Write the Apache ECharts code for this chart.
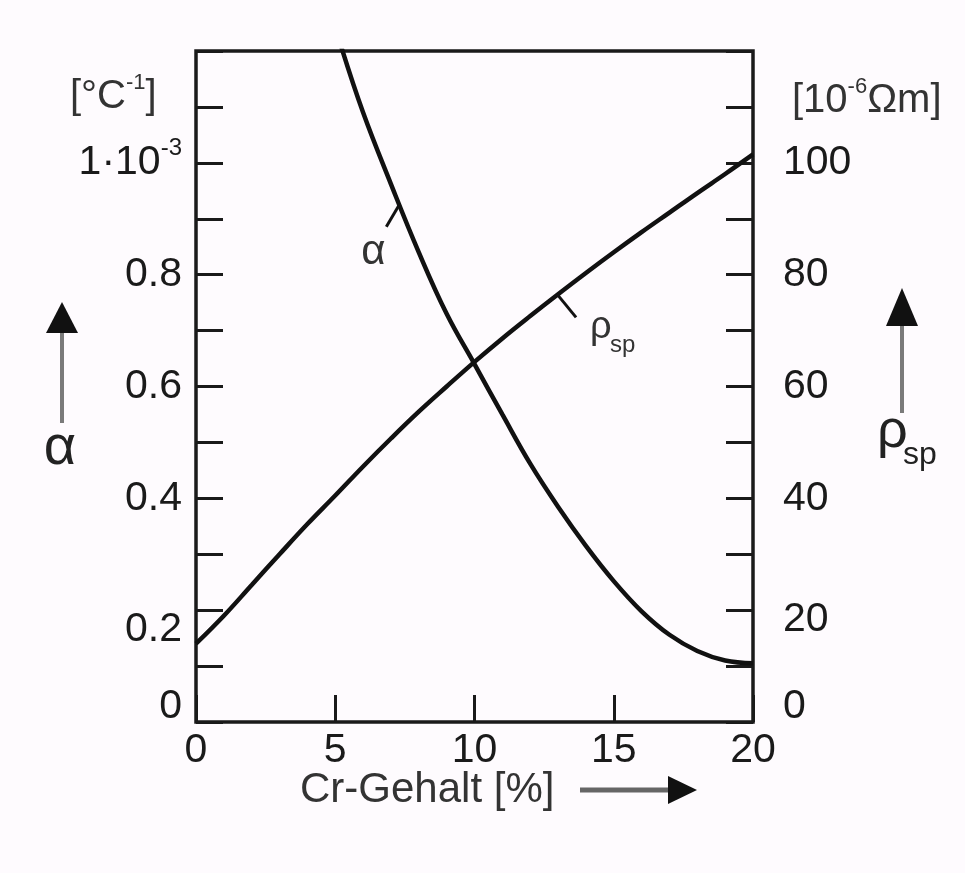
<!DOCTYPE html>
<html>
<head>
<meta charset="utf-8">
<title>Cr-Gehalt</title>
<script src="https://cdn.jsdelivr.net/npm/echarts@6/dist/echarts.min.js"></script>
<style>
html,body{margin:0;padding:0;background:#fefbfe;}
#chart{width:965px;height:873px;}
</style>
</head>
<body>
<div id="chart"></div>
<script>
// rho_sp [10^-6 Ohm m] against Cr content [%]
var crRho = [0,1,2,3,4,5,6,7,8,9,10,11,12,13,14,15,16,17,18,19,20];
var rhoSp = [14,19,24.5,30,35.4,40.5,45.7,50.7,55.5,60,64.4,68.6,72.6,76.5,80.3,84,87.6,91.1,94.6,98,101.5];
// alpha [1e-3 /°C] against Cr content [%]
var crAlpha = [5.2,6,7,8,9,10,11,12,13,14,15,16,17,18,19,20];
var alphaVal = [1.21,1.09,0.962,0.84,0.73,0.64,0.55,0.462,0.385,0.315,0.252,0.198,0.156,0.127,0.110,0.105];

var leftTickValues = [0,0.2,0.4,0.6,0.8,1.0];
var leftTickLabels = ['{z|0}','{d|0.2}','0.4','0.6','0.8','{n|1·10}{sup|-3}'];
var rightTickValues = [0,20,40,60,80,100];
var rightTickLabels = ['{z|0}','{e|20}','40','60','80','100'];

// where the curve notes sit (data coords)
var alphaNote = [7.3, 0.925];
var rhoNote = [13.0, 76.3];

var FONT = '"Liberation Sans", Arial, sans-serif';
var INK = '#1a1a1a';

function pickLabel(vals, labels){
	return function(v){
		for(var i = 0; i < vals.length; i++){
			if(Math.abs(v - vals[i]) < 1e-6) return labels[i];
		}
		return '';
	};
}

var labelRich = {
	z: {fontSize: 41, fontFamily: FONT, color: INK, padding: [0,0,30,0]},
	d: {fontSize: 41, fontFamily: FONT, color: INK, padding: [40,0,0,0]},
	e: {fontSize: 41, fontFamily: FONT, color: INK, padding: [20,0,0,0]},
	n: {fontSize: 41, fontFamily: FONT, color: INK, lineHeight: 52},
	sup: {fontSize: 24, fontFamily: FONT, color: INK, lineHeight: 24, verticalAlign: 'top'}
};

var tickStyle = {show: true, inside: true, length: 27, lineStyle: {color: INK, width: 3}};

var option = {
	backgroundColor: '#fefbfe',
	animation: false,
	grid: {
		left: 196, right: 212, top: 51, bottom: 151,
		show: true, borderColor: INK, borderWidth: 3.5,
		backgroundColor: 'transparent',
		outerBoundsMode: 'none'
	},
	xAxis: {
		type: 'value', min: 0, max: 20, interval: 5,
		axisLine: {show: false},
		axisTick: tickStyle,
		splitLine: {show: false},
		axisLabel: {fontSize: 41, fontFamily: FONT, color: INK, margin: 8, showMinLabel: true, showMaxLabel: true}
	},
	yAxis: [{
		type: 'value', min: 0, max: 1.2, interval: 0.1, position: 'left',
		axisLine: {show: false},
		axisTick: tickStyle,
		splitLine: {show: false},
		axisLabel: {
			fontSize: 41, fontFamily: FONT, color: INK, margin: 14,
			formatter: pickLabel(leftTickValues, leftTickLabels),
			rich: labelRich
		}
	},{
		type: 'value', min: 0, max: 120, interval: 10, position: 'right',
		axisLine: {show: false},
		axisTick: tickStyle,
		splitLine: {show: false},
		axisLabel: {
			fontSize: 41, fontFamily: FONT, color: INK, margin: 30,
			formatter: pickLabel(rightTickValues, rightTickLabels),
			rich: labelRich
		}
	}],
	series: [{
		name: 'rho',
		type: 'line',
		yAxisIndex: 1,
		data: crRho.map(function(x, i){ return [x, rhoSp[i]]; }),
		showSymbol: false,
		smooth: 0.4,
		clip: true,
		lineStyle: {color: '#111', width: 4.5}
	},{
		name: 'alpha',
		type: 'line',
		yAxisIndex: 0,
		data: crAlpha.map(function(x, i){ return [x, alphaVal[i]]; }),
		showSymbol: false,
		smooth: 0.4,
		clip: true,
		lineStyle: {color: '#111', width: 4.5}
	}]
};

var chart = echarts.init(document.getElementById('chart'));
chart.setOption(option);

var pA = chart.convertToPixel({xAxisIndex: 0, yAxisIndex: 0}, alphaNote);
var pR = chart.convertToPixel({xAxisIndex: 0, yAxisIndex: 1}, rhoNote);

function arrowUp(x, tipY, baseY, endY){
	return [{
		type: 'line', shape: {x1: x, y1: baseY - 2, x2: x, y2: endY},
		style: {stroke: '#7a7a7a', lineWidth: 4}
	},{
		type: 'polygon', shape: {points: [[x, tipY], [x - 16, baseY], [x + 16, baseY]]},
		style: {fill: '#111'}
	}];
}

var unitRich = {
	n: {fontSize: 40, fontFamily: FONT, fill: '#333', lineHeight: 50},
	sup: {fontSize: 22, fontFamily: FONT, fill: '#333', lineHeight: 22, verticalAlign: 'top'}
};

var graphics = [
	// unit labels
	{type: 'text', x: 70, y: 72, style: {text: '{n|[°C}{sup|-1}{n|]}', rich: unitRich}},
	{type: 'text', x: 792, y: 76, style: {text: '{n|[10}{sup|-6}{n|Ωm]}', rich: unitRich}},
	// side quantity names
	{type: 'text', x: 60, y: 449, style: {text: 'α', font: '56px ' + FONT, fill: '#222', align: 'center', verticalAlign: 'middle'}},
	{type: 'text', x: 877, y: 432, style: {text: 'ρ', font: '54px ' + FONT, fill: '#222', align: 'left', verticalAlign: 'middle'}},
	{type: 'text', x: 903, y: 455, style: {text: 'sp', font: '32px ' + FONT, fill: '#222', align: 'left', verticalAlign: 'middle'}},
	// x axis title
	{type: 'text', x: 300, y: 790, style: {text: 'Cr-Gehalt [%]', font: '42px ' + FONT, fill: '#333', align: 'left', verticalAlign: 'middle'}},
	{type: 'line', shape: {x1: 580, y1: 790, x2: 672, y2: 790}, style: {stroke: '#666', lineWidth: 5}},
	{type: 'polygon', shape: {points: [[697, 790], [668, 776], [668, 804]]}, style: {fill: '#111'}},
	// curve notes
	{type: 'line', shape: {x1: pA[0], y1: pA[1], x2: pA[0] - 13, y2: pA[1] + 22}, style: {stroke: '#111', lineWidth: 3}},
	{type: 'text', x: pA[0] - 26, y: pA[1] + 48, style: {text: 'α', font: '42px ' + FONT, fill: '#333', align: 'center', verticalAlign: 'middle'}},
	{type: 'line', shape: {x1: pR[0], y1: pR[1], x2: pR[0] + 18, y2: pR[1] + 22}, style: {stroke: '#111', lineWidth: 3}},
	{type: 'text', x: pR[0] + 32, y: pR[1] + 32, style: {text: 'ρ', font: '38px ' + FONT, fill: '#333', align: 'left', verticalAlign: 'middle'}},
	{type: 'text', x: pR[0] + 52, y: pR[1] + 50, style: {text: 'sp', font: '24px ' + FONT, fill: '#333', align: 'left', verticalAlign: 'middle'}}
].concat(arrowUp(62, 302, 333, 423), arrowUp(902, 288, 326, 413));

chart.setOption({graphic: graphics});
</script>
</body>
</html>
